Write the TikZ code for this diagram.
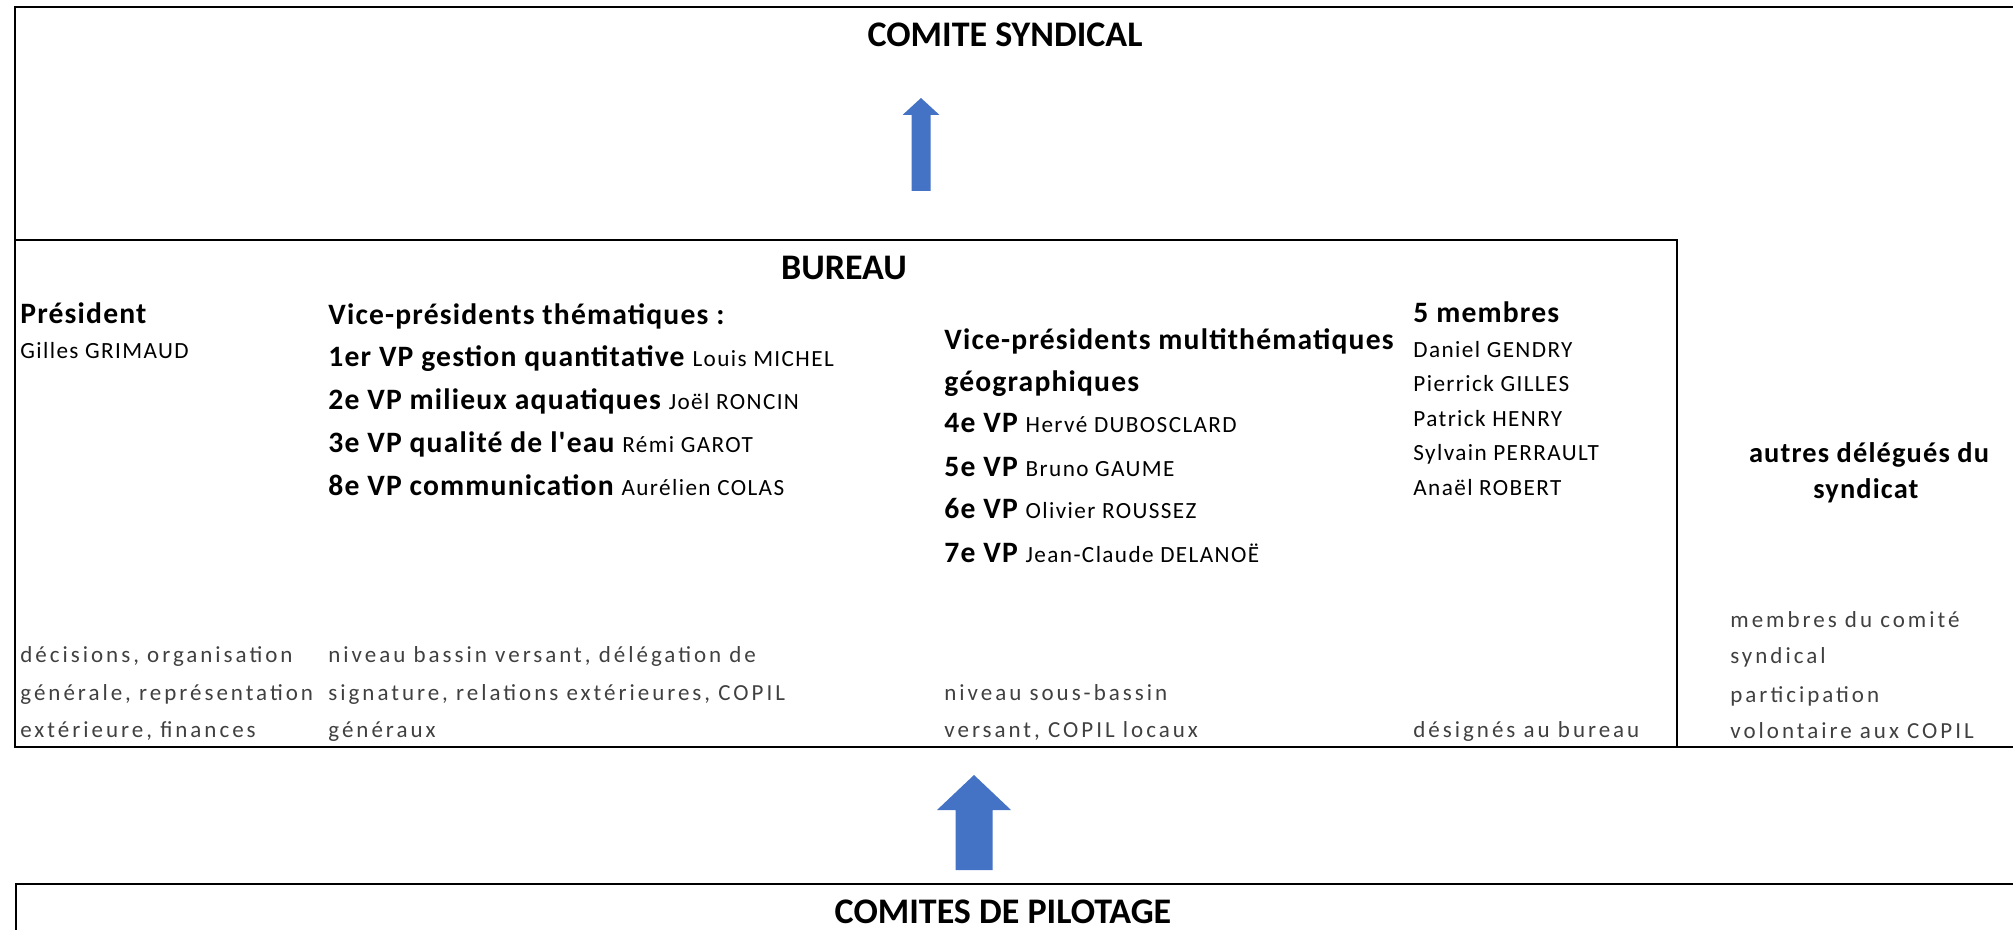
\documentclass[tikz,border=0pt]{standalone}
\usepackage{fontspec}
\setmainfont{Carlito}
\newfontfamily\headfont[LetterSpace=4]{Carlito}
\newfontfamily\namefont[LetterSpace=6]{Carlito}
\newfontfamily\notefont[LetterSpace=13]{Carlito}
\definecolor{arrowblue}{HTML}{4472C4}
\newcommand{\nm}[1]{{\namefont\mdseries\fontsize{11.6}{13}\selectfont #1}}
\tikzset{
	titre/.style={inner sep=0pt, anchor=base, font=\fontsize{18}{20}\selectfont\bfseries},
	tete/.style={inner sep=0pt, anchor=base west, font=\headfont\fontsize{14.8}{16}\selectfont\bfseries},
	nom/.style={inner sep=0pt, anchor=base west, font=\namefont\fontsize{11.6}{13}\selectfont},
	note/.style={inner sep=0pt, anchor=base west, text=black!75, font=\notefont\fontsize{11.5}{13}\selectfont},
	cadre/.style={line width=1pt}
}
\begin{document}
\begin{tikzpicture}[x=0.5pt, y=-0.5pt]
	\useasboundingbox (0,0) rectangle (2013,930);
	% cadres
	\draw [cadre] (2013,7) -- (15,7) -- (15,747) -- (2013,747);
	\draw [cadre] (15,240) -- (1677,240) -- (1677,747);
	\draw [cadre] (2013,884) -- (16,884) -- (16,930);
	% titres
	\node (comite) [titre] at (1005,47) {COMITE SYNDICAL};
	\node (bureau) [titre] at (844,280) {BUREAU};
	\node (copil) [titre] at (1003,923) {COMITES DE PILOTAGE};
	% fleches
	\fill [arrowblue] (911.5,191) -- (911.5,115) -- (902.5,115) -- (921,98) -- (939.5,115) -- (930.5,115) -- (930.5,191) -- cycle;
	\fill [arrowblue] (955.5,870) -- (955.5,810) -- (937,810) -- (974,775) -- (1011,810) -- (992.5,810) -- (992.5,870) -- cycle;
	% president
	\node (pres) [tete] at (20,324) {Président};
	\node (presnom) [nom] at (20,359) {Gilles GRIMAUD};
	% vice-presidents thematiques
	\node (vpt) [tete] at (328,325) {Vice-présidents thématiques :};
	\node (vpa) [tete] at (328,367) {1er VP gestion quantitative \nm{Louis MICHEL}};
	\node (vpb) [tete] at (328,410) {2e VP milieux aquatiques \nm{Joël RONCIN}};
	\node (vpc) [tete] at (328,452) {3e VP qualité de l'eau \nm{Rémi GAROT}};
	\node (vph) [tete] at (328,495) {8e VP communication \nm{Aurélien COLAS}};
	% vice-presidents multithematiques
	\node (vpm) [tete] at (944,350) {Vice-présidents multithématiques};
	\node (vpmgeo) [tete] at (944,392) {géographiques};
	\node (vpd) [tete] at (944,433) {4e VP \nm{Hervé DUBOSCLARD}};
	\node (vpe) [tete] at (944,477) {5e VP \nm{Bruno GAUME}};
	\node (vpf) [tete] at (944,518) {6e VP \nm{Olivier ROUSSEZ}};
	\node (vpg) [tete] at (944,562) {7e VP \nm{Jean-Claude DELANOË}};
	% membres
	\node (membres) [tete] at (1413,323) {5 membres};
	\node (mba) [nom] at (1413,358) {Daniel GENDRY};
	\node (mbb) [nom] at (1413,392) {Pierrick GILLES};
	\node (mbc) [nom] at (1413,427) {Patrick HENRY};
	\node (mbd) [nom] at (1413,460) {Sylvain PERRAULT};
	\node (mbe) [nom] at (1413,495) {Anaël ROBERT};
	% autres delegues
	\node (autres) [tete, anchor=base, font=\headfont\fontsize{14.2}{16}\selectfont\bfseries] at (1869,463) {autres délégués du};
	\node (autressyn) [tete, anchor=base, font=\headfont\fontsize{14.2}{16}\selectfont\bfseries] at (1866,498) {syndicat};
	% roles
	\node (rpa) [note] at (20,662) {décisions, organisation};
	\node (rpb) [note] at (20,700) {générale, représentation};
	\node (rpc) [note] at (20,737) {extérieure, finances};
	\node (rta) [note] at (328,662) {niveau bassin versant, délégation de};
	\node (rtb) [note] at (328,700) {signature, relations extérieures, COPIL};
	\node (rtc) [note] at (328,737) {généraux};
	\node (rma) [note] at (944,700) {niveau sous-bassin};
	\node (rmb) [note] at (944,737) {versant, COPIL locaux};
	\node (rmem) [note] at (1413,737) {désignés au bureau};
	\node (raa) [note] at (1730,627) {membres du comité};
	\node (rab) [note] at (1730,663) {syndical};
	\node (rac) [note] at (1730,702) {participation};
	\node (rad) [note] at (1730,738) {volontaire aux COPIL};
\end{tikzpicture}
\end{document}
